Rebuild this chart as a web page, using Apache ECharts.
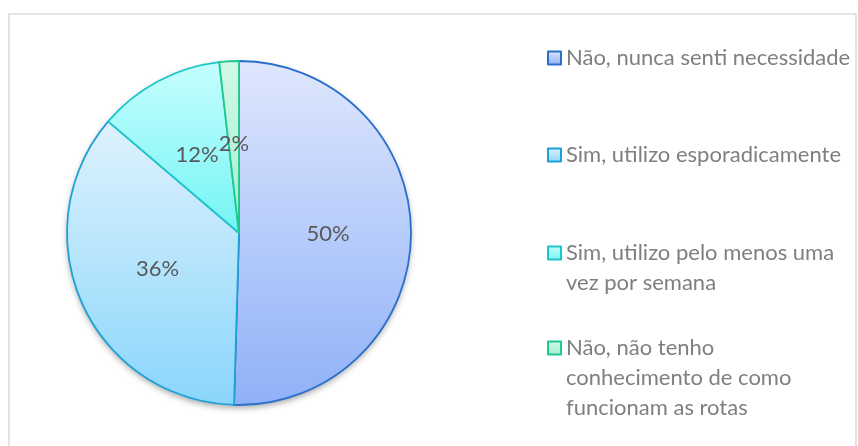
<!DOCTYPE html>
<html>
<head>
<meta charset="utf-8">
<script src="https://cdn.jsdelivr.net/npm/echarts@6/dist/echarts.min.js"></script>
<style>
  html, body { margin: 0; padding: 0; background: #ffffff; }
  #chart { width: 858px; height: 446px; }
</style>
</head>
<body>
<div id="chart"></div>
<script>
// Survey answers and how many respondents chose each one
const categories = [
  'Não, nunca senti necessidade',
  'Sim, utilizo esporadicamente',
  'Sim, utilizo pelo menos uma vez por semana',
  'Não, não tenho conhecimento de como funcionam as rotas'
];
const responses = [55, 39, 13, 2];

// Legend text broken into lines
const legendLines = [
  ['Não, nunca senti necessidade'],
  ['Sim, utilizo esporadicamente'],
  ['Sim, utilizo pelo menos uma', 'vez por semana'],
  ['Não, não tenho', 'conhecimento de como', 'funcionam as rotas']
];

// Slice styling: gradient from light top to deeper bottom, with a darker outline
const fillTop = ['#dfe7fd', '#dff2fd', '#c6fefe', '#d2f9e8'];
const fillBottom = ['#8fb1f8', '#8ad6fb', '#74f4f4', '#a2eecf'];
const edgeColors = ['#2b6fcc', '#1fa0d8', '#1dc7c9', '#1fc98c'];

const FONT = 'Lato, "Open Sans", sans-serif';
const LINE_H = 30;
const legendRowCenters = [58, 155, 253, 348];

const total = responses.reduce((a, b) => a + b, 0);

const sliceData = categories.map((name, i) => ({
  name: name,
  value: responses[i],
  itemStyle: {
    color: {
      type: 'linear', x: 0, y: 0, x2: 0, y2: 1,
      colorStops: [
        { offset: 0, color: fillTop[i] },
        { offset: 1, color: fillBottom[i] }
      ]
    },
    borderColor: edgeColors[i],
    borderWidth: 1.8
  }
}));

// The legend centres its icon on the text block, so empty lines are put
// ahead of the wrapped text to keep the marker level with the first line.
const legends = categories.map((name, i) => {
  const n = legendLines[i].length;
  const lead = new Array(n - 1).fill(' ');
  return {
    data: [name],
    left: 547,
    top: legendRowCenters[i] - (2 * n - 1) * LINE_H / 2,
    padding: 0,
    itemGap: 0,
    itemWidth: 13,
    itemHeight: 13,
    icon: 'rect',
    selectedMode: false,
    formatter: () => lead.concat(legendLines[i]).join('\n'),
    textStyle: {
      fontFamily: FONT,
      fontSize: 22,
      color: '#7f7f7f',
      lineHeight: LINE_H
    }
  };
});

const chart = echarts.init(document.getElementById('chart'), null, { renderer: 'canvas' });

chart.setOption({
  animation: false,
  backgroundColor: '#ffffff',
  graphic: [{
    type: 'rect',
    silent: true,
    z: -10,
    shape: { x: 9, y: 14, width: 847, height: 460 },
    style: { fill: 'none', stroke: '#dcdcdc', lineWidth: 1.6 }
  }],
  legend: legends,
  series: [
    {
      // soft drop shadow under the whole pie
      type: 'pie',
      name: 'base',
      silent: true,
      z: 1,
      center: [239, 233],
      radius: 172,
      label: { show: false },
      labelLine: { show: false },
      tooltip: { show: false },
      emphasis: { disabled: true },
      itemStyle: {
        color: '#ffffff',
        shadowBlur: 6,
        shadowOffsetY: 3,
        shadowColor: 'rgba(0,0,0,0.35)'
      },
      data: [{ name: '', value: total }]
    },
    {
      type: 'pie',
      name: 'Respostas',
      z: 2,
      center: [239, 233],
      radius: 172,
      startAngle: 90,
      clockwise: true,
      avoidLabelOverlap: false,
      emphasis: { disabled: true },
      label: {
        show: true,
        position: 'inside',
        formatter: '{d}%',
        fontFamily: FONT,
        fontSize: 22,
        color: '#595959'
      },
      labelLine: { show: false },
      percentPrecision: 0,
      data: sliceData
    }
  ]
});
</script>
</body>
</html>
